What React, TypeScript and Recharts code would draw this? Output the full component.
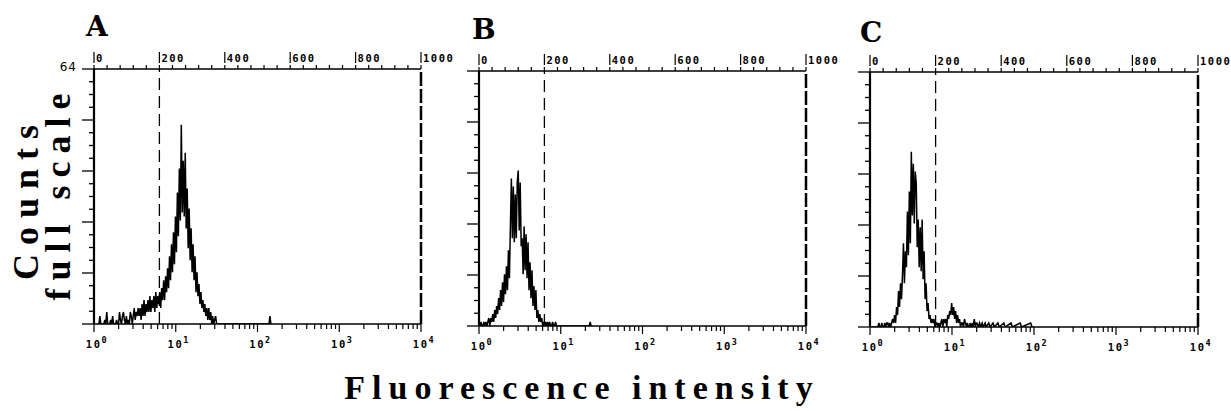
import React from 'react';
import { LineChart, Line, XAxis, YAxis, ReferenceLine } from 'recharts';

// ---------- data ----------
const BIN = 3; // channels per histogram bin

const aStart = 15;
const aCounts = [
  0, 2, 0, 0, 0, 0, 1, 0, 3, 0, 0, 0, 1, 0, 2, 0, 0, 0, 1, 0,
  0, 3, 1, 0, 2, 3, 1, 0, 2, 0, 1, 0, 3, 2, 0, 2, 4, 1, 3, 2,
  4, 2, 4, 1, 5, 2, 6, 2, 5, 3, 6, 3, 7, 3, 6, 4, 7, 3, 8, 4,
  7, 5, 8, 4, 9, 6, 11, 6, 12, 8, 14, 9, 17, 11, 20, 13, 23, 15, 27, 18,
  33, 22, 39, 26, 50, 28, 41, 27, 43, 24, 34, 19, 29, 16, 24, 13, 20, 11, 17, 8,
  13, 7, 10, 5, 8, 4, 6, 3, 5, 2, 4, 1, 4, 1, 3, 0, 2, 0, 1, 2, 0,
];
const aExtraChannels = [535, 538, 541];
const aExtraCounts = [0, 2, 0];

const bStart = 0;
const bCounts = [
  0, 0, 1, 0, 0, 1, 0, 1, 0, 1, 2, 0, 2, 1, 3, 1, 4, 2, 5, 3,
  7, 4, 9, 5, 11, 6, 13, 8, 15, 9, 19, 12, 25, 37, 22, 35, 21, 33, 22, 36,
  39, 24, 36, 20, 22, 13, 25, 14, 23, 12, 21, 9, 16, 7, 14, 5, 10, 4, 9, 2,
  4, 1, 3, 1, 2, 0, 1, 0, 1, 0, 1, 0, 1, 0, 0, 1, 0, 0, 1, 0, 0,
];
const bExtraChannels = [337, 340, 343];
const bExtraCounts = [0, 1, 0];

const cStart = 0;
const cCounts = [
  0, 0, 0, 0, 0, 0, 0, 0, 0, 1, 0, 0, 1, 0, 0, 1, 0, 1, 1, 0,
  1, 0, 1, 2, 1, 3, 1, 5, 3, 9, 5, 11, 7, 13, 21, 11, 19, 15, 29, 18,
  34, 21, 44, 28, 41, 26, 39, 36, 20, 27, 15, 25, 14, 27, 12, 19, 7, 11, 4, 6,
  2, 3, 1, 2, 1, 2, 0, 1, 1, 0, 1, 0, 1, 2, 0, 2, 1, 2, 0, 3,
  2, 4, 3, 6, 3, 5, 2, 4, 1, 3, 1, 2, 0, 1, 1, 0, 2, 1, 0, 1, 0,
];
const cExtraChannels = [303, 305, 309, 312, 314, 318, 321, 324, 326, 330, 334, 337, 342, 345, 351, 354, 362, 366, 375, 379, 390, 394, 408, 412, 430, 434, 458, 462, 490, 494];
const cExtraCounts = [0, 1, 0, 1, 0, 2, 0, 1, 1, 0, 1, 0, 1, 0, 1, 0, 1, 0, 1, 0, 1, 0, 1, 0, 1, 0, 1, 0, 1, 0];

const topTicks = [0, 40, 80, 120, 160, 200, 240, 280, 320, 360, 400, 440, 480, 520, 560, 600, 640, 680, 720, 760, 800, 840, 880, 920, 960, 1000];
const topLabels = [0, 200, 400, 600, 800, 1000];
const decadeChannels = [0, 250, 500, 750, 1000];
const decadeExponents = ['0', '1', '2', '3', '4'];
const minorMultipliers = [2, 3, 4, 5, 6, 7, 8, 9];
const yTicks = [0, 3.2, 6.4, 9.6, 12.8, 16, 19.2, 22.4, 25.6, 28.8, 32, 35.2, 38.4, 41.6, 44.8, 48, 51.2, 54.4, 57.6, 60.8, 64];
const yMajorTicks = [0, 12.8, 25.6, 38.4, 51.2, 64];
const gateChannel = 200;
const fullScale = 64;

// ---------- helpers ----------
function buildData(start: number, counts: number[], exCh: number[], exCt: number[]) {
  const rows = counts.map((v, i) => ({ ch: start + i * BIN, v }));
  exCh.forEach((c, i) => rows.push({ ch: c, v: exCt[i] }));
  rows.sort((p, q) => p.ch - q.ch);
  return rows;
}

const bottomTicks: number[] = [...decadeChannels];
for (let d = 0; d < 4; d++) {
  minorMultipliers.forEach((k) => bottomTicks.push(250 * (d + Math.log10(k))));
}
bottomTicks.sort((p, q) => p - q);

const MONO = '"DejaVu Sans Mono", monospace';

const TopTick = (props: any) => {
  const { x, y, payload } = props;
  const v = payload.value;
  const isLabel = topLabels.indexOf(v) >= 0;
  return (
    <g>
      <line x1={x} x2={x} y1={y - 4} y2={y} stroke="#000" strokeWidth={1.2} />
      {isLabel && (
        <g>
          <line x1={x} x2={x} y1={y - 17} y2={y - 6} stroke="#000" strokeWidth={1.2} />
          <text x={x + 2} y={y - 7} fontFamily={MONO} fontWeight="bold" fontSize={10.5} letterSpacing={1.5} fill="#000">
            {String(v)}
          </text>
        </g>
      )}
    </g>
  );
};

const BottomTick = (props: any) => {
  const { x, y, payload } = props;
  const v = payload.value;
  const idx = decadeChannels.indexOf(v);
  const major = idx >= 0;
  return (
    <g>
      <line x1={x} x2={x} y1={y} y2={y + (major ? 8 : 5)} stroke="#000" strokeWidth={1.2} />
      {major && (
        <text x={x + 3} y={y + 24} textAnchor="middle" fontFamily={MONO} fontWeight="bold" fontSize={10.5} letterSpacing={1.5} fill="#000">
          10
          <tspan dy={-5} fontSize={8.5}>{decadeExponents[idx]}</tspan>
        </text>
      )}
    </g>
  );
};

const makeLeftTick = (showMax: boolean) => (props: any) => {
  const { x, y, payload } = props;
  const v = payload.value;
  const major = yMajorTicks.some((m) => Math.abs(m - v) < 1e-6);
  return (
    <g>
      <line x1={x - (major ? 12 : 5)} x2={x} y1={y} y2={y} stroke="#000" strokeWidth={1.3} />
      {showMax && Math.abs(v - fullScale) < 1e-6 && (
        <text x={x - 17} y={y + 2} textAnchor="end" fontFamily='"DejaVu Sans", sans-serif' fontSize={12} letterSpacing={1} fill="#000">
          {String(fullScale)}
        </text>
      )}
    </g>
  );
};

const LeftTickMax = makeLeftTick(true);
const LeftTickPlain = makeLeftTick(false);

const M = 45;
const PH = 255;
const AX = 1; // axis band size

function Panel({ left, top, width, data, showMax }: any) {
  return (
    <div style={{ position: 'absolute', left: left - M, top: top - M }}>
      <LineChart
        width={width + 2 * M}
        height={PH + 2 * M}
        data={data}
        margin={{ top: M - AX, right: M, bottom: M - AX, left: M - AX }}
      >
        <XAxis
          xAxisId="b"
          dataKey="ch"
          type="number"
          domain={[0, 1000]}
          allowDataOverflow
          ticks={bottomTicks}
          interval={0}
          height={AX}
          tickSize={0}
          tickMargin={0}
          tickLine={false}
          axisLine={{ stroke: '#000', strokeWidth: 1.5 }}
          tick={BottomTick}
        />
        <XAxis
          xAxisId="t"
          orientation="top"
          dataKey="ch"
          type="number"
          domain={[0, 1000]}
          allowDataOverflow
          ticks={topTicks}
          interval={0}
          height={AX}
          tickSize={0}
          tickMargin={0}
          tickLine={false}
          axisLine={{ stroke: '#000', strokeWidth: 1.5 }}
          tick={TopTick}
        />
        <YAxis
          type="number"
          domain={[0, fullScale]}
          allowDataOverflow
          ticks={yTicks}
          interval={0}
          width={AX}
          tickSize={0}
          tickMargin={0}
          tickLine={false}
          axisLine={{ stroke: '#000', strokeWidth: 2.2 }}
          tick={showMax ? LeftTickMax : LeftTickPlain}
        />
        <ReferenceLine xAxisId="b" x={gateChannel} stroke="#000" strokeWidth={1.3} strokeDasharray="12 6" />
        <ReferenceLine xAxisId="b" x={1000} stroke="#000" strokeWidth={2.5} strokeDasharray="14 3" />
        <Line
          xAxisId="b"
          dataKey="v"
          type="linear"
          stroke="#000"
          strokeWidth={1.5}
          dot={false}
          activeDot={false}
          isAnimationActive={false}
        />
      </LineChart>
    </div>
  );
}

const dataA = buildData(aStart, aCounts, aExtraChannels, aExtraCounts);
const dataB = buildData(bStart, bCounts, bExtraChannels, bExtraCounts);
const dataC = buildData(cStart, cCounts, cExtraChannels, cExtraCounts);

const SERIF = '"Liberation Serif", "Times New Roman", serif';
const LETTER = '"DejaVu Serif", serif';

export default function App() {
  return (
    <div style={{ position: 'absolute', left: 0, top: 0, width: 1231, height: 411, background: '#fff', overflow: 'hidden' }}>
      <Panel left={94} top={69} width={327} data={dataA} showMax />
      <Panel left={479} top={71} width={327} data={dataB} showMax={false} />
      <Panel left={870} top={72} width={328} data={dataC} showMax={false} />
      <svg width={1231} height={411} style={{ position: 'absolute', left: 0, top: 0, pointerEvents: 'none' }}>
        <text x={86} y={36} fontFamily={LETTER} fontWeight="bold" fontSize={28} fill="#000">A</text>
        <text x={472} y={39} fontFamily={LETTER} fontWeight="bold" fontSize={28} fill="#000">B</text>
        <text x={860} y={42} fontFamily={LETTER} fontWeight="bold" fontSize={28} fill="#000">C</text>
        <text transform="translate(38,198) rotate(-90)" textAnchor="middle" fontFamily={SERIF} fontWeight="bold" fontSize={36} letterSpacing={9} fill="#000">Counts</text>
        <text transform="translate(70,193) rotate(-90)" textAnchor="middle" fontFamily={SERIF} fontWeight="bold" fontSize={36} letterSpacing={8} fill="#000">full scale</text>
        <text x={582} y={399} textAnchor="middle" fontFamily={SERIF} fontWeight="bold" fontSize={34} letterSpacing={7} fill="#000">Fluorescence intensity</text>
      </svg>
    </div>
  );
}
